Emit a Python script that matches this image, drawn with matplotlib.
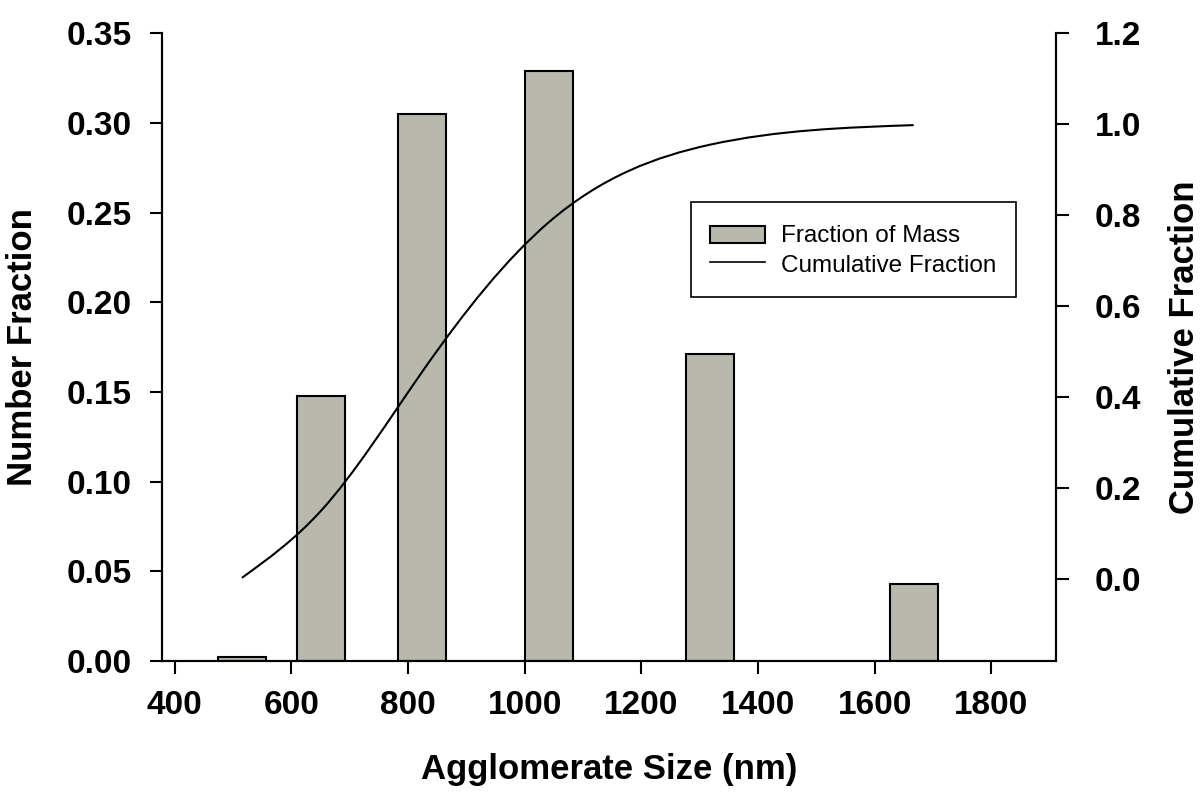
import numpy as np
import matplotlib
matplotlib.use("Agg")
import matplotlib.pyplot as plt
from matplotlib.path import Path
from matplotlib.patches import PathPatch, Patch, Rectangle
from matplotlib.lines import Line2D
from matplotlib.legend_handler import HandlerPatch

plt.rcParams['font.family'] = ['Liberation Sans', 'DejaVu Sans']

# ---- data ----
sizes = [515, 651, 824, 1041, 1318, 1667]          # agglomerate size bin centres (nm)
number_fraction = [0.002, 0.148, 0.305, 0.329, 0.171, 0.043]
cumulative = [0.002, 0.150, 0.455, 0.784, 0.955, 0.998]
bar_width = 82
x_ticks = [400, 600, 800, 1000, 1200, 1400, 1600, 1800]
left_ticks = [0.00, 0.05, 0.10, 0.15, 0.20, 0.25, 0.30, 0.35]
right_ticks = [0.0, 0.2, 0.4, 0.6, 0.8, 1.0, 1.2]

BAR_COLOR = '#b8b8ac'

fig = plt.figure(figsize=(12, 7.96), dpi=100)
ax = fig.add_axes([162/1200, 1-661/796, (1056-162)/1200, (661-33.3)/796])
ax2 = ax.twinx()

ax.bar(sizes, number_fraction, width=bar_width, color=BAR_COLOR,
       edgecolor='black', linewidth=1.5, zorder=2)

# smooth cubic spline drawn as Bezier path through the cumulative points
x = np.asarray(sizes, float)
y = np.asarray(cumulative, float)
n = len(x)
h = np.diff(x)
A = np.zeros((n, n)); b = np.zeros(n)
A[0, 0] = 1; A[-1, -1] = 1
for i in range(1, n-1):
    A[i, i-1] = h[i-1]; A[i, i] = 2*(h[i-1]+h[i]); A[i, i+1] = h[i]
    b[i] = 6*((y[i+1]-y[i])/h[i] - (y[i]-y[i-1])/h[i-1])
M = np.linalg.solve(A, b)
m = np.zeros(n)
for i in range(n-1):
    m[i] = (y[i+1]-y[i])/h[i] - h[i]*(2*M[i]+M[i+1])/6
m[-1] = (y[-1]-y[-2])/h[-1] + h[-1]*(M[-2]+2*M[-1])/6
verts = [(x[0], y[0])]
codes = [Path.MOVETO]
for i in range(n-1):
    verts += [(x[i]+h[i]/3, y[i]+m[i]*h[i]/3),
              (x[i+1]-h[i]/3, y[i+1]-m[i+1]*h[i]/3),
              (x[i+1], y[i+1])]
    codes += [Path.CURVE4]*3
ax2.add_patch(PathPatch(Path(verts, codes), facecolor='none',
                        edgecolor='black', linewidth=1.5, zorder=3))

ax.set_xlim(378, 1911)
ax.set_ylim(0, 0.35)
ax2.set_ylim(-0.181, 1.2)

ax.set_xticks(x_ticks)
ax.set_xticklabels([str(t) for t in x_ticks])
ax.set_yticks(left_ticks)
ax.set_yticklabels([f"{t:.2f}" for t in left_ticks])
ax2.set_yticks(right_ticks)
ax2.set_yticklabels([f"{t:.1f}" for t in right_ticks])

for a in (ax, ax2):
    for s in a.spines.values():
        s.set_linewidth(1.5)
    a.spines['top'].set_visible(False)
ax.tick_params(axis='both', direction='out', length=9, width=1.5,
               labelsize=24)
ax.tick_params(axis='y', pad=13)
ax.tick_params(axis='x', pad=12)
ax2.tick_params(axis='y', direction='out', length=9, width=1.5,
                labelsize=24, pad=19)
for lab in ax.get_xticklabels() + ax.get_yticklabels() + ax2.get_yticklabels():
    lab.set_fontweight('bold')

fig.text(609/1200, 1-770/796, 'Agglomerate Size (nm)', fontsize=25,
         fontweight='bold', ha='center', va='center')
fig.text(23/1200, 1-347/796, 'Number Fraction', fontsize=25,
         fontweight='bold', ha='center', va='center', rotation=90)
fig.text(1184/1200, 1-347/796, 'Cumulative Fraction', fontsize=25,
         fontweight='bold', ha='center', va='center', rotation=90)


def small_rect(legend, orig_handle, xdescent, ydescent, width, height, fontsize):
    ph = 0.68 * height
    return Rectangle((-xdescent, -ydescent + (height - ph) / 2), width, ph)


handles = [Patch(facecolor=BAR_COLOR, edgecolor='black', linewidth=1.5),
           Line2D([], [], color='black', linewidth=1.2)]
leg = ax2.legend(handles, ['Fraction of Mass', 'Cumulative Fraction'],
                 loc='upper left', bbox_to_anchor=(691/1200, 1-202/796),
                 bbox_transform=fig.transFigure, borderaxespad=0,
                 fancybox=False, framealpha=1, edgecolor='black',
                 fontsize=17.5, handlelength=2.26, handleheight=1.23,
                 handletextpad=0.66, borderpad=0.8, labelspacing=0.17,
                 handler_map={Patch: HandlerPatch(patch_func=small_rect)})
leg.get_frame().set_linewidth(1.2)

fig.savefig('out.png', dpi=100)
